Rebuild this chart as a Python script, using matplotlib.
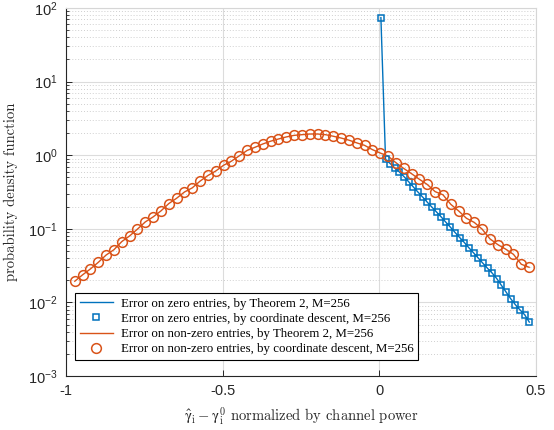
import numpy as np
import matplotlib
matplotlib.use("Agg")
import matplotlib.pyplot as plt
from matplotlib.ticker import FixedLocator, FixedFormatter, LogLocator, NullFormatter

# ---------------- data ----------------
# Non-zero entries (orange): bin centres and pdf values
x_nonzero = np.round(-0.972 + 0.025 * np.arange(59), 4)
pdf_nonzero_sim = [
    0.0194, 0.0237, 0.0285, 0.035, 0.044, 0.052, 0.067, 0.080, 0.099, 0.124,
    0.145, 0.175, 0.22, 0.26, 0.316, 0.36, 0.445, 0.53, 0.61, 0.73,
    0.83, 0.98, 1.16, 1.28, 1.42, 1.55, 1.66, 1.77, 1.86, 1.90,
    1.94, 1.94, 1.90, 1.81, 1.71, 1.60, 1.47, 1.36, 1.19, 1.07,
    0.97, 0.79, 0.66, 0.56, 0.47, 0.40, 0.32, 0.29, 0.215, 0.175,
    0.139, 0.122, 0.099, 0.073, 0.061, 0.053, 0.045, 0.033, 0.030,
]
pdf_nonzero_thm = list(pdf_nonzero_sim)

# Zero entries (blue): bin centres and pdf values
x_zero = np.round(0.005 + 0.0148 * np.arange(33), 4)
pdf_zero_sim = [
    74.0, 0.88, 0.77, 0.67, 0.59, 0.51, 0.435, 0.37, 0.315, 0.27,
    0.23, 0.197, 0.169, 0.145, 0.123, 0.105, 0.089, 0.076, 0.065, 0.055,
    0.047, 0.040, 0.034, 0.029, 0.025, 0.021, 0.017, 0.0138, 0.0112, 0.0093,
    0.0079, 0.0068, 0.0054,
]
pdf_zero_thm = list(pdf_zero_sim)

labels = [
    "Error on zero entries, by Theorem 2, M=256",
    "Error on zero entries, by coordinate descent, M=256",
    "Error on non-zero entries, by Theorem 2, M=256",
    "Error on non-zero entries, by coordinate descent, M=256",
]
xticks = [-1, -0.5, 0, 0.5]
xtick_labels = ["-1", "-0.5", "0", "0.5"]

# ---------------- style ----------------
plt.rcParams["font.family"] = ["Liberation Sans", "DejaVu Sans"]
plt.rcParams["mathtext.default"] = "regular"

BLUE = "#0072BD"
ORANGE = "#D95319"

fig = plt.figure(figsize=(5.54, 4.30), dpi=100)
ax = fig.add_axes([66 / 554, 1 - 376 / 430, 470 / 554, 368 / 430])

ax.plot(x_zero, pdf_zero_thm, color=BLUE, lw=1.0, label=labels[0], zorder=3)
ax.plot(x_zero, pdf_zero_sim, ls="none", marker="s", ms=5, mfc="none",
        mec=BLUE, mew=1.1, label=labels[1], zorder=4)
ax.plot(x_nonzero, pdf_nonzero_thm, color=ORANGE, lw=1.0, label=labels[2], zorder=3)
ax.plot(x_nonzero, pdf_nonzero_sim, ls="none", marker="o", ms=7, mfc="none",
        mec=ORANGE, mew=1.1, label=labels[3], zorder=4)

ax.set_yscale("log")
ax.set_xlim(-1, 0.5)
ax.set_ylim(1e-3, 1e2)
ax.xaxis.set_major_locator(FixedLocator(xticks))
ax.xaxis.set_major_formatter(FixedFormatter(xtick_labels))
ax.yaxis.set_major_locator(LogLocator(base=10, numticks=10))
ax.yaxis.set_minor_locator(LogLocator(base=10, subs=np.arange(2, 10), numticks=20))
ax.yaxis.set_minor_formatter(NullFormatter())

ax.grid(True, which="major", color="#dcdcdc", lw=0.8, ls="-")
ax.grid(True, which="minor", axis="y", color="#cfcfcf", lw=0.7, ls=(0, (1, 2)))
ax.set_axisbelow(True)

for s in ["left", "bottom"]:
    ax.spines[s].set_color("#262626")
    ax.spines[s].set_linewidth(0.8)
for s in ["top", "right"]:
    ax.spines[s].set_color("#d6d6d6")
    ax.spines[s].set_linewidth(0.8)

ax.tick_params(axis="both", which="major", direction="in", length=4, width=0.7,
               color="#262626", labelsize=10.5, labelcolor="#262626", pad=6)
ax.tick_params(axis="y", which="minor", direction="in", length=2.2, width=0.6,
               color="#262626")

ax.set_xlabel(r"$\hat{\gamma}_i - \gamma_i^0$ normalized by channel power",
              fontfamily="cmr10", fontsize=10.5, math_fontfamily="cm", labelpad=5,
              color="#262626")
ax.set_ylabel("probability density function", fontfamily="cmr10", fontsize=10.5,
              labelpad=7, color="#262626")

leg = ax.legend(loc="lower left", bbox_to_anchor=(9 / 470, 16 / 368),
                borderaxespad=0, fancybox=False, framealpha=1, edgecolor="black",
                prop={"family": "Liberation Serif", "size": 9.3},
                labelspacing=0.25, handlelength=2.6, handletextpad=0.6,
                borderpad=0.35)
leg.get_frame().set_linewidth(0.8)

fig.savefig("out.png", dpi=100)
